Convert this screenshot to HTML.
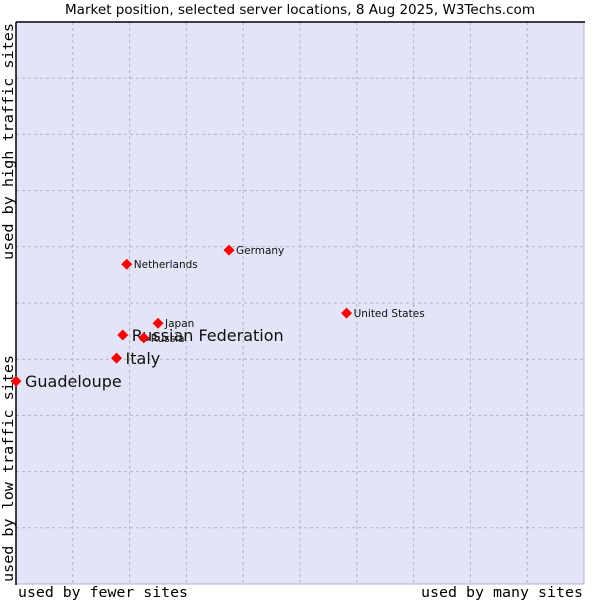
<!DOCTYPE html>
<html><head><meta charset="utf-8"><style>
body{margin:0;background:#fff;width:600px;height:600px;overflow:hidden}
svg text{font-family:"DejaVu Sans","Liberation Sans",sans-serif}
.mono{font-family:"DejaVu Sans Mono","Liberation Mono",monospace}
</style></head><body>
<svg id="chart" width="600" height="600">
<text x="65" y="14" textLength="470" lengthAdjust="spacingAndGlyphs" font-size="13" fill="#000">Market position, selected server locations, 8 Aug 2025, W3Techs.com</text>
<rect x="16" y="22" width="568" height="562" fill="#e4e4f8" stroke="#b0b0d0" stroke-width="1"/>
<g id="grid"></g>
<line x1="16" y1="22" x2="585" y2="22" stroke="#000" stroke-width="1.5"/>
<line x1="16" y1="22" x2="16" y2="585" stroke="#000" stroke-width="1.5"/>
<g id="points"></g>
<text class="mono" x="18" y="597" font-size="14.5" textLength="170" lengthAdjust="spacingAndGlyphs">used by fewer sites</text>
<text class="mono" x="421" y="597" font-size="14.5" textLength="162" lengthAdjust="spacingAndGlyphs">used by many sites</text>
<text class="mono" transform="translate(13,582) rotate(-90)" font-size="14.5" textLength="227" lengthAdjust="spacingAndGlyphs">used by low traffic sites</text>
<text class="mono" transform="translate(13,260) rotate(-90)" font-size="14.5" textLength="237" lengthAdjust="spacingAndGlyphs">used by high traffic sites</text>
</svg>
<script>
const names=["Guadeloupe","Italy","Russian Federation","Russia","Japan","Netherlands","Germany","United States"];
const xVals=[0,1.77,1.88,2.25,2.50,1.95,3.75,5.82];
const yVals=[3.61,4.02,4.43,4.38,4.64,5.69,5.94,4.82];
const bigLabel=[true,true,true,false,false,false,false,false];
const ns="http://www.w3.org/2000/svg";
const X=v=>16+v*56.8, Y=v=>584-v*56.2;
const grid=document.getElementById('grid');
for(let i=1;i<10;i++){
 const lx=document.createElementNS(ns,'line');
 lx.setAttribute('x1',X(i));lx.setAttribute('x2',X(i));lx.setAttribute('y1',22);lx.setAttribute('y2',584);
 lx.setAttribute('stroke','#b4b4b4');lx.setAttribute('stroke-dasharray','3,3');
 
 
 grid.appendChild(lx);
 const ly=document.createElementNS(ns,'line');
 ly.setAttribute('y1',Y(i));ly.setAttribute('y2',Y(i));ly.setAttribute('x1',16);ly.setAttribute('x2',584);
 ly.setAttribute('stroke','#b4b4b4');ly.setAttribute('stroke-dasharray','3,3');
 
 
 grid.appendChild(ly);
}
const pts=document.getElementById('points');
names.forEach((n,i)=>{
 const cx=X(xVals[i]),cy=Y(yVals[i]);
 const d=document.createElementNS(ns,'polygon');
 d.setAttribute('points',`${cx},${cy-5.5} ${cx+5.5},${cy} ${cx},${cy+5.5} ${cx-5.5},${cy}`);
 d.setAttribute('fill','#ff0000');
 
 
 pts.appendChild(d);
 const t=document.createElementNS(ns,'text');
 t.setAttribute('x',cx+(bigLabel[i]?9:7));
 t.setAttribute('y',cy+(bigLabel[i]?6:4));
 t.setAttribute('font-size',bigLabel[i]?16:10.5);
 t.setAttribute('fill','#111');
 t.textContent=n;
 
 
 pts.appendChild(t);
});
</script>
</body></html>
